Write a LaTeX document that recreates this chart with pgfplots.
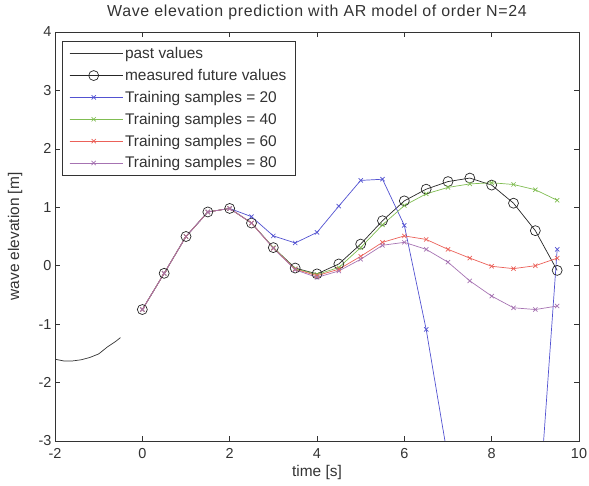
\documentclass[border=0pt]{standalone}
\usepackage{fontspec}
\setmainfont{Liberation Sans}
\usepackage{pgfplots}
\pgfplotsset{compat=1.18}
\definecolor{mblue}{rgb}{0.32,0.32,0.82}
\definecolor{mgreen}{rgb}{0.50,0.74,0.32}
\definecolor{mred}{rgb}{0.92,0.38,0.35}
\definecolor{mpurple}{rgb}{0.65,0.45,0.70}
\begin{document}
\begin{tikzpicture}
\begin{axis}[
  scale only axis,
  width=524bp, height=409bp,
  xmin=-2, xmax=10, ymin=-3, ymax=4,
  xtick={-2,0,...,10}, ytick={-3,-2,...,4},
  /pgf/number format/assume math mode=true,
  tick label style={font=\fontsize{14.5}{16}\selectfont, text=black!80},
  xticklabel style={yshift=-4bp},
  every axis title shift=0pt,
  title style={font={\fontsize{16}{18}\selectfont\addfontfeatures{LetterSpace=4}}, text=black!80, at={(axis description cs:0.5,1.049)}, anchor=center, yshift=0pt},
  title={Wave elevation prediction with AR model of order N=24},
  xlabel style={font=\fontsize{15.5}{17}\selectfont, text=black!80, at={(axis description cs:0.5,-0.077)}, anchor=center},
  ylabel style={font=\fontsize{15.5}{17}\selectfont, text=black!80, at={(axis description cs:-0.076,0.5)}, anchor=center},
  xlabel={time [s]}, ylabel={wave elevation [m]},
  major tick length=5bp,
  tick style={black!80, line width=0.5pt},
  axis line style={black!80, line width=0.7pt},
  legend cell align=left,
  legend style={at={(axis description cs:0.0134,0.978)}, anchor=north west, font=\fontsize{15.5}{17}\selectfont,
    text=black!80, draw=black!80, line width=0.7pt, row sep=5.2bp, inner xsep=7bp, inner ysep=4bp},
  legend image code/.code={\path (0bp,0bp) -- (53bp,0bp);\draw[mark repeat=2,mark phase=2] plot coordinates {(0bp,0bp)(24bp,0bp)(48bp,0bp)};},
]
\addplot[black!80, line width=0.7pt, mark=none] coordinates {
(-2,-1.60) (-1.8,-1.63) (-1.6,-1.63) (-1.4,-1.61) (-1.2,-1.57) (-1.0,-1.51) (-0.8,-1.39) (-0.6,-1.29) (-0.5,-1.23)};
\addlegendentry{past values}
\addplot[black!85, line width=0.7pt, mark=o, mark size=5bp, mark options={line width=0.7pt}] coordinates {
(0,-0.75) (0.5,-0.13) (1,0.50) (1.5,0.92) (2,0.98) (2.5,0.73) (3,0.31) (3.5,-0.04) (4,-0.14) (4.5,0.03)
(5,0.37) (5.5,0.77) (6,1.11) (6.5,1.31) (7,1.44) (7.5,1.50) (8,1.38) (8.5,1.07) (9,0.60) (9.5,-0.08)};
\addlegendentry{measured future values}
\addplot[mblue, line width=0.7pt, mark=x, mark size=3bp] coordinates {
(0,-0.75) (0.5,-0.13) (1,0.50) (1.5,0.92) (2,0.98) (2.5,0.84) (3,0.51) (3.5,0.39) (4,0.57) (4.5,1.02)
(5,1.46) (5.5,1.48) (6,0.69) (6.5,-1.09) (7,-3.31) (7.5,-5.5) (8,-6.5) (8.5,-6.5) (9,-5.0) (9.5,0.28)};
\addlegendentry{Training samples = 20}
\addplot[mgreen, line width=0.7pt, mark=x, mark size=3bp] coordinates {
(0,-0.75) (0.5,-0.13) (1,0.50) (1.5,0.92) (2,0.98) (2.5,0.73) (3,0.31) (3.5,-0.05) (4,-0.15) (4.5,-0.03)
(5,0.31) (5.5,0.70) (6,1.03) (6.5,1.23) (7,1.34) (7.5,1.40) (8,1.42) (8.5,1.39) (9,1.30) (9.5,1.12)};
\addlegendentry{Training samples = 40}
\addplot[mred, line width=0.7pt, mark=x, mark size=3bp] coordinates {
(0,-0.75) (0.5,-0.13) (1,0.50) (1.5,0.92) (2,0.98) (2.5,0.73) (3,0.30) (3.5,-0.06) (4,-0.17) (4.5,-0.06)
(5,0.16) (5.5,0.40) (6,0.51) (6.5,0.45) (7,0.28) (7.5,0.13) (8,-0.01) (8.5,-0.05) (9,0.00) (9.5,0.13)};
\addlegendentry{Training samples = 60}
\addplot[mpurple, line width=0.7pt, mark=x, mark size=3bp] coordinates {
(0,-0.75) (0.5,-0.13) (1,0.50) (1.5,0.92) (2,0.98) (2.5,0.73) (3,0.30) (3.5,-0.07) (4,-0.20) (4.5,-0.09)
(5,0.11) (5.5,0.35) (6,0.40) (6.5,0.28) (7,0.06) (7.5,-0.26) (8,-0.52) (8.5,-0.72) (9,-0.75) (9.5,-0.69)};
\addlegendentry{Training samples = 80}
\end{axis}
\pgfresetboundingbox
\path (current axis.south west) ++(-55bp,-45bp) coordinate (bbA);
\path (current axis.north east) ++(10bp,32bp) coordinate (bbB);
\useasboundingbox (bbA) rectangle (bbB);
\end{tikzpicture}
\end{document}
